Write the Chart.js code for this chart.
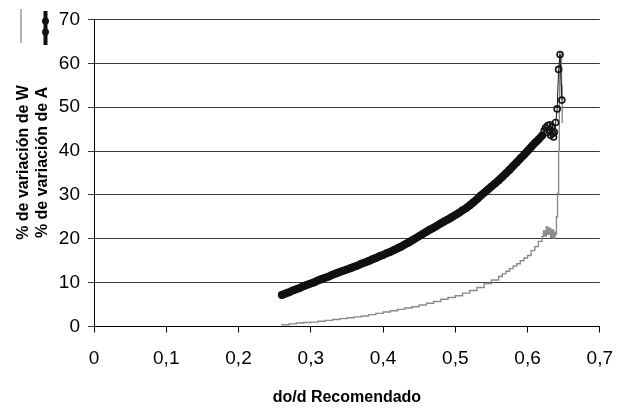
<!DOCTYPE html>
<html>
<head>
<meta charset="utf-8">
<script src="https://cdn.jsdelivr.net/npm/chart.js@4"></script>
<style>
  html, body { margin: 0; padding: 0; background: #fff; }
  #wrap { width: 628px; height: 408px; }
</style>
</head>
<body>
<div id="wrap"><canvas id="c" width="628" height="408"></canvas></div>
<script>
// ---- data ----
const xTickLabels = ['0', '0,1', '0,2', '0,3', '0,4', '0,5', '0,6', '0,7'];
const yTickLabels = ['0', '10', '20', '30', '40', '50', '60', '70'];
const xTitle = 'do/d Recomendado';
const yTitles = ['% de variación de W', '% de variación de A'];
const seriesNames = ['% de variación de W', '% de variación de A'];

// % de variación de A (black markers)
const aX = [0.260,0.265,0.270,0.275,0.280,0.285,0.290,0.295,0.300,0.305,0.310,0.315,0.320,0.325,0.330,0.335,0.340,0.345,0.350,0.355,
            0.360,0.365,0.370,0.375,0.380,0.385,0.390,0.395,0.400,0.405,0.410,0.415,0.420,0.425,0.430,0.435,0.440,0.445,0.450,0.455,
            0.460,0.465,0.470,0.475,0.480,0.485,0.490,0.495,0.500,0.505,0.510,0.515,0.520,0.525,0.530,0.535,0.540,0.545,0.550,0.555,
            0.560,0.565,0.570,0.575,0.580,0.585,0.590,0.595,0.600,0.605,0.610,0.615,0.620,
            0.623,0.625,0.627,0.628,0.630,0.631,0.632,0.634,0.635,0.636,0.637,0.639,0.641,0.643,0.645,0.6475];
const aY = [7.2,7.5,7.8,8.2,8.5,8.8,9.2,9.5,9.8,10.1,10.5,10.8,11.1,11.4,11.8,12.1,12.4,12.7,13.0,13.3,
            13.6,13.9,14.3,14.6,14.9,15.3,15.6,16.0,16.3,16.7,17.0,17.4,17.8,18.2,18.7,19.1,19.6,20.1,20.6,21.1,
            21.6,22.1,22.5,23.0,23.5,24.0,24.4,24.9,25.4,25.9,26.5,27.0,27.6,28.3,29.0,29.8,30.5,31.2,31.9,32.6,
            33.3,34.1,34.9,35.7,36.6,37.4,38.3,39.1,40.0,40.9,41.8,42.6,43.5,
            44.6,45.3,44.2,45.8,44.8,46.0,43.6,45.5,44.0,43.2,44.3,46.5,49.6,58.6,62.0,51.6];

// % de variación de W (gray line)
const wX = [0.259,0.27,0.28,0.29,0.30,0.31,0.32,0.33,0.34,0.35,0.36,0.37,0.38,0.39,0.40,0.41,0.42,0.43,0.44,0.45,
            0.46,0.47,0.48,0.49,0.50,0.51,0.52,0.53,0.54,0.55,0.56,0.565,0.57,0.575,0.58,0.585,0.59,0.595,0.60,0.605,
            0.61,0.615,0.62,0.622,0.624,0.626,0.628,0.630,0.632,0.634,0.636,0.638,0.639,0.640,0.6415,0.643,0.644,0.6445,0.647,0.648];
const wY = [0.4,0.6,0.8,0.9,1.0,1.2,1.4,1.6,1.8,2.0,2.2,2.4,2.7,3.0,3.3,3.6,3.9,4.2,4.5,4.9,
            5.3,5.7,6.2,6.6,7.0,7.6,8.2,8.9,9.8,10.6,11.4,12.0,12.6,13.2,13.8,14.3,15.0,15.6,16.2,17.3,
            18.2,19.4,20.5,21.8,20.6,22.7,21.0,22.4,20.3,22.0,20.1,21.5,21.0,25.0,30.4,40.0,52.0,62.5,55.0,46.4];

const FONT = "'Liberation Sans Narrow', 'Arial Narrow', 'Liberation Sans', Arial, sans-serif";
const GRAY = '#8a8a8a';
const DENSE_END = 0.62; // where the A markers stop overlapping into a solid band

const pts = (xs, ys) => xs.map((x, i) => ({ x: x, y: ys[i] }));

// rotated legend + rotated two-line y title
const decor = {
  id: 'decor',
  afterDraw(chart) {
    const ctx = chart.ctx;
    ctx.save();
    // legend: W (thin gray line)
    ctx.strokeStyle = GRAY;
    ctx.lineWidth = 1.3;
    ctx.beginPath(); ctx.moveTo(21, 9); ctx.lineTo(21, 43); ctx.stroke();
    // legend: A (black line with markers)
    ctx.strokeStyle = '#111';
    ctx.lineWidth = 4;
    ctx.beginPath(); ctx.moveTo(45.5, 11); ctx.lineTo(45.5, 45); ctx.stroke();
    ctx.lineWidth = 1.8;
    [21, 32].forEach(y => { ctx.beginPath(); ctx.arc(45.5, y, 2.6, 0, Math.PI * 2); ctx.stroke(); });
    // y title lines
    ctx.fillStyle = '#000';
    ctx.font = "bold 16px " + FONT;
    ctx.textAlign = 'center';
    ctx.textBaseline = 'middle';
    const cy = 162.5;
    [24, 43].forEach((x, i) => {
      ctx.save();
      ctx.translate(x, cy);
      ctx.rotate(-Math.PI / 2);
      ctx.fillText(yTitles[i], 0, 0);
      ctx.restore();
    });
    ctx.restore();
  }
};

new Chart(document.getElementById('c'), {
  type: 'scatter',
  data: {
    datasets: [
      {
        label: seriesNames[0],
        data: pts(wX, wY),
        showLine: true,
        stepped: true,
        borderColor: GRAY,
        borderWidth: 1.4,
        pointRadius: 0,
        order: 1
      },
      {
        label: seriesNames[1],
        data: pts(aX, aY),
        showLine: true,
        borderColor: '#111',
        borderWidth: 1,
        segment: {
          borderWidth: (c) => (c.p1.parsed.x <= DENSE_END ? 8 : 1)
        },
        borderCapStyle: 'round',
        pointRadius: 3,
        pointBorderWidth: 1.6,
        pointBorderColor: '#111',
        pointBackgroundColor: 'rgba(0,0,0,0)',
        order: 0
      }
    ]
  },
  options: {
    responsive: false,
    animation: false,
    devicePixelRatio: 1,
    layout: { padding: { top: 19, right: 22, left: 0, bottom: 0 } },
    plugins: { legend: { display: false }, tooltip: { enabled: false } },
    scales: {
      x: {
        type: 'linear',
        min: 0, max: 0.7,
        afterFit(s) { s.height = 81.5; },
        ticks: {
          stepSize: 0.1,
          color: '#000',
          padding: 15,
          font: { family: FONT, size: 19 },
          callback: (v) => xTickLabels[Math.round(v * 10)]
        },
        grid: { drawOnChartArea: false, drawTicks: true, tickLength: 6, color: '#000', lineWidth: 1 },
        border: { display: true, color: '#000', width: 1 },
        title: {
          display: true, text: xTitle, color: '#000',
          font: { family: FONT, size: 16, weight: 'bold' },
          padding: { top: 0, bottom: 1 }
        }
      },
      y: {
        type: 'linear',
        min: 0, max: 70,
        afterFit(s) { s.width = 94; },
        ticks: {
          stepSize: 10,
          color: '#000',
          padding: 8,
          font: { family: FONT, size: 19 },
          callback: (v) => yTickLabels[Math.round(v / 10)]
        },
        grid: { color: '#3a3a3a', lineWidth: 1, drawTicks: true, tickLength: 6 },
        border: { display: true, color: '#000', width: 1 }
      }
    }
  },
  plugins: [decor]
});
</script>
</body>
</html>
